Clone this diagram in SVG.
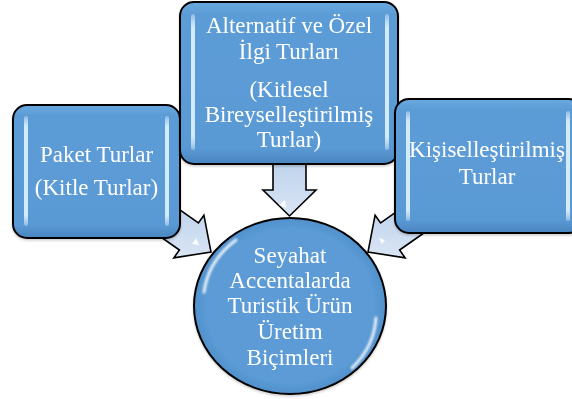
<svg xmlns="http://www.w3.org/2000/svg" width="572" height="399" viewBox="0 0 572 399">
<defs>
<linearGradient id="boxg" x1="0" y1="0" x2="0" y2="1">
<stop offset="0" stop-color="#6aa9e0"/>
<stop offset="0.08" stop-color="#5c9cd6"/>
<stop offset="0.9" stop-color="#5a9ad4"/>
<stop offset="1" stop-color="#4a85c0"/>
</linearGradient>
<linearGradient id="barg" x1="0" y1="0" x2="0" y2="1">
<stop offset="0" stop-color="#ffffff" stop-opacity="0.3"/>
<stop offset="0.1" stop-color="#d8f0ff" stop-opacity="0.95"/>
<stop offset="0.9" stop-color="#d8f0ff" stop-opacity="0.95"/>
<stop offset="1" stop-color="#ffffff" stop-opacity="0.3"/>
</linearGradient>
<linearGradient id="arrg" x1="0" y1="0" x2="0" y2="1">
<stop offset="0" stop-color="#b9cfea"/>
<stop offset="1" stop-color="#d9e5f4"/>
</linearGradient>
<radialGradient id="circg" cx="0.5" cy="0.5" r="0.5">
<stop offset="0" stop-color="#5b9bd5"/>
<stop offset="0.88" stop-color="#5b9bd5"/>
<stop offset="1" stop-color="#5090cb"/>
</radialGradient>
<filter id="sh" x="-10%" y="-10%" width="120%" height="125%">
<feDropShadow dx="0" dy="1.5" stdDeviation="1" flood-color="#000" flood-opacity="0.2"/>
</filter>
<filter id="blur"><feGaussianBlur stdDeviation="1.2"/></filter>
</defs>
<style>
.box{fill:url(#boxg);stroke:#000;stroke-width:2}
.bar{fill:url(#barg)}
.arr{fill:url(#arrg);stroke:#000;stroke-width:1.6;stroke-linejoin:miter}
.hl{fill:#ffffff;opacity:0.9}
.t{font-family:"Liberation Serif","Times New Roman",serif;font-size:23px;fill:#ffffff;text-anchor:middle}
.gloss{fill:none;stroke:#ffffff;stroke-linecap:round;filter:url(#blur)}
</style>
<g id="connectors">
<g id="arrow-top">
<polygon class="arr" points="273,150 306,150 306,190 316,190 289.5,216 263,190 273,190"/>
<polygon class="hl" points="279,205 285,200 286,208"/>
</g>
<g id="arrow-left">
<polygon class="arr" points="157.4,194.2 198.4,223 203.9,215.2 211,252 173.9,257.8 179.4,250 138.4,221.2"/>
<polygon class="hl" points="192,244 196,238 199,245"/>
</g>
<g id="arrow-right">
<polygon class="arr" points="421.6,194.2 380.6,223 375.1,215.2 368,252 405.1,257.8 399.6,250 440.6,221.2"/>
<polygon class="hl" points="379,238 382,244 385,240"/>
</g>
</g>
<g id="node-paket" filter="url(#sh)">
<rect class="box" x="13" y="105" width="167" height="133" rx="14"/>
<rect class="bar" x="24" y="116" width="4" height="110" rx="2"/>
<rect class="bar" x="165" y="116" width="4" height="110" rx="2"/>
<text class="t" x="96.5" y="162">Paket Turlar</text>
<text class="t" x="96.5" y="195">(Kitle Turlar)</text>
</g>
<g id="node-alternatif" filter="url(#sh)">
<rect class="box" x="180" y="2" width="218" height="162" rx="14"/>
<rect class="bar" x="191" y="14" width="4" height="136" rx="2"/>
<rect class="bar" x="385" y="14" width="4" height="136" rx="2"/>
<text class="t" x="289" y="33">Alternatif ve Özel</text>
<text class="t" x="289" y="59">İlgi Turları</text>
<text class="t" x="289" y="97">(Kitlesel</text>
<text class="t" x="289" y="122">Bireyselleştirilmiş</text>
<text class="t" x="289" y="147">Turlar)</text>
</g>
<g id="node-kisisel" filter="url(#sh)">
<rect class="box" x="395" y="99" width="188" height="134" rx="14"/>
<rect class="bar" x="406" y="111" width="4" height="110" rx="2"/>
<rect class="bar" x="566" y="111" width="4" height="110" rx="2"/>
<text class="t" x="487" y="157">Kişiselleştirilmiş</text>
<text class="t" x="487" y="184">Turlar</text>
</g>
<g id="node-center" filter="url(#sh)">
<ellipse cx="290" cy="306" rx="96" ry="88" fill="url(#circg)" stroke="#000" stroke-width="2"/>
<path class="gloss" d="M 204 292 A 88 80 0 0 1 236 240" stroke-width="3" opacity="0.85"/>
<path class="gloss" d="M 376 318 A 88 80 0 0 1 352 368" stroke-width="3" opacity="0.85"/>
<text class="t" x="290" y="263">Seyahat</text>
<text class="t" x="290" y="288">Accentalarda</text>
<text class="t" x="290" y="313">Turistik Ürün</text>
<text class="t" x="290" y="339">Üretim</text>
<text class="t" x="290" y="365">Biçimleri</text>
</g>
</svg>
